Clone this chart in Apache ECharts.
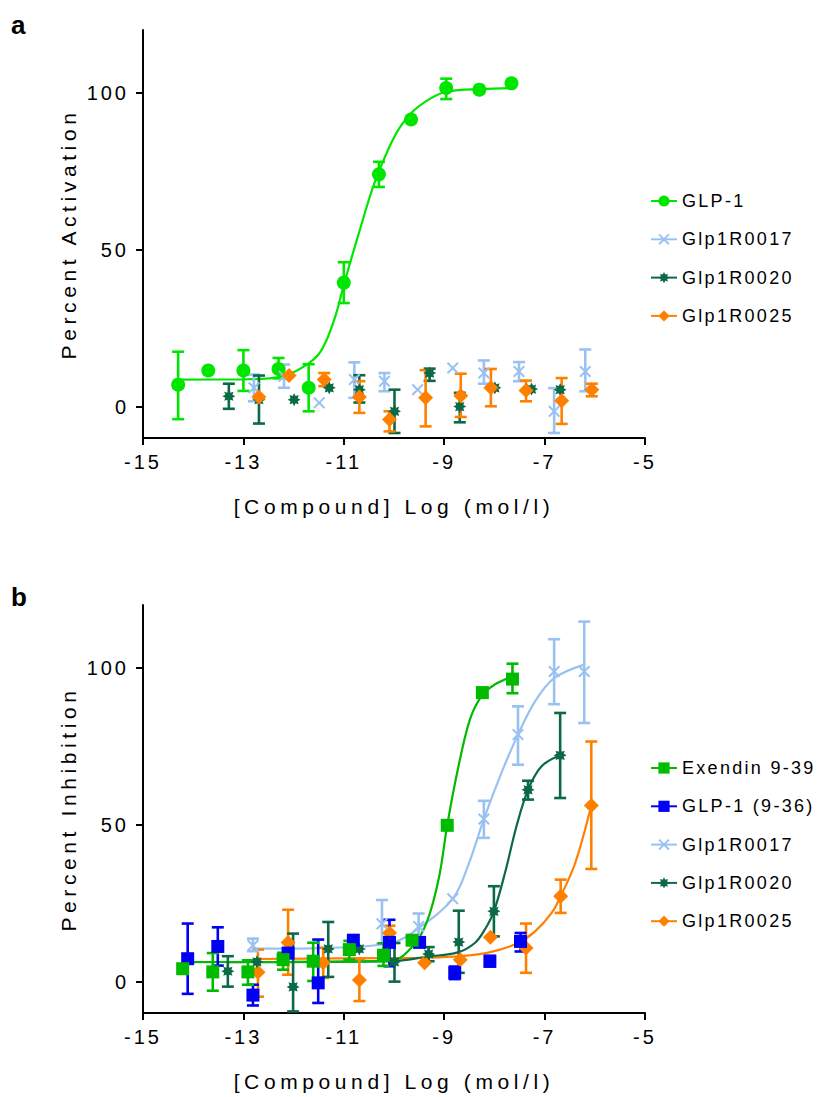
<!DOCTYPE html>
<html>
<head>
<meta charset="utf-8">
<script src="https://cdn.jsdelivr.net/npm/echarts@6/dist/echarts.min.js"></script>
<style>
  html, body { margin: 0; padding: 0; background: #fff; }
  #chart { width: 823px; height: 1097px; }
  #chart svg text { letter-spacing: 3px; }
  #chart svg text[style*="21px"] { letter-spacing: 4.6px; }
  #chart svg text[style*="18px"] { letter-spacing: 2.3px; }
</style>
</head>
<body>
<div id="chart"></div>
<script>
// ---- panel a : activation ----
var aGlp1X = [-14.3, -13.7, -13.0, -12.3, -11.7, -11.0, -10.3, -9.66, -8.96, -8.3, -7.66];
var aGlp1Y = [7, 11.5, 11.5, 12, 6, 39.5, 74, 91.5, 101.5, 101, 103];
var aGlp1Err = [[-4, 17.5], null, [5, 18], [9, 15.5], [-1.5, 13.5], [33, 46], [70, 78], null, [98, 104.5], null, null];
var aGlp1CurveX = [-14.3, -13.0, -12.26, -11.79, -11.46, -11.19, -10.99, -10.66, -10.39, -9.99, -9.66, -9.26, -8.93, -8.26, -7.66];
var aGlp1CurveY = [8.6, 8.7, 9.5, 12.8, 17.6, 27.7, 39.4, 57.4, 71.2, 86.1, 93.5, 98.3, 100.4, 101.2, 101.5];

var a0017X = [-12.79, -12.19, -11.49, -10.79, -10.19, -9.53, -8.83, -8.21, -7.51, -6.81, -6.19];
var a0017Y = [6, 9.7, 1.2, 8.6, 8.1, 5.4, 12.3, 10.7, 11.2, -1.5, 11.2];
var a0017Err = [[1.7, 10.2], [6, 13.4], null, [2.8, 14.1], [4.9, 10.7], null, null, [7.3, 14.7], [8.1, 14.2], [-8.4, 5.9], [4.9, 18.2]];

var a0020X = [-13.29, -12.69, -11.99, -11.29, -10.69, -9.99, -9.29, -8.69, -7.99, -7.26, -6.69];
var a0020Y = [3.3, 2.2, 2.2, 6, 5.4, -1.5, 10.7, 0, 6, 5.6, 5.4];
var a0020Err = [[-0.7, 7.3], [-5.4, 9.9], null, null, [1.3, 10], [-8.4, 5.4], [8.2, 12.1], [-5, 4.4], null, null, null];

var a0025X = [-12.69, -12.09, -11.39, -10.69, -10.09, -9.37, -8.67, -8.07, -7.37, -6.66, -6.06];
var a0025Y = [3.1, 9.9, 8.6, 3.1, -4.1, 2.8, 3.5, 6, 5.1, 1.9, 5.4];
var a0025Err = [null, null, [6.5, 10.7], [-2, 8.1], [-7.9, -1.5], [-6.3, 11.6], [-3.3, 10.5], [0.1, 12], [1.7, 8.3], [-5.5, 9.1], [3.3, 7.3]];

// ---- panel b : inhibition ----
var bExX = [-14.21, -13.61, -12.91, -12.21, -11.61, -10.89, -10.21, -9.64, -8.94, -8.24, -7.64];
var bExY = [4.1, 3.1, 3.1, 7, 6.5, 10.2, 8.4, 13.2, 49.8, 92.1, 96.4];
var bExErr = [null, [-2.9, 9.1], [-1, 6.8], [3.8, 9.2], [0.2, 12.4], [7, 13], [5, 12.2], null, null, null, [91.9, 101.3]];
var bExCurveX = [-14.21, -12.0, -10.06, -9.6, -9.33, -9.1, -8.94, -8.73, -8.49, -8.26, -8.0, -7.64];
var bExCurveY = [6.2, 6.3, 6.6, 11.8, 19.7, 33.5, 49.8, 67.5, 83.4, 90.9, 94.6, 97.2];

var bGlpX = [-14.11, -13.51, -12.81, -12.11, -11.51, -10.81, -10.09, -9.49, -8.79, -8.09, -7.48];
var bGlpY = [7.3, 11.2, -4.3, 9.1, -0.4, 13.2, 12.5, 12.5, 2.8, 6.5, 12.8];
var bGlpErr = [[-3.9, 18.5], [5.1, 17.3], [-7.6, -1], null, [-6.8, 13.4], null, [4.9, 19.7], null, [0.8, 4.8], [4.8, 8.2], [9.6, 15.5]];

var b0017X = [-12.81, -10.24, -9.51, -8.83, -8.21, -7.53, -6.81, -6.21];
var b0017Y = [11.5, 18.4, 17.6, 26.4, 51.8, 78.7, 98.8, 98.8];
var b0017Err = [[9.7, 13.7], [12, 26], [13.4, 21.7], null, [45.8, 57.6], [69.1, 87.7], [88.4, 109.1], [82.4, 114.7]];
var b0017CurveX = [-12.8, -11.5, -10.06, -9.51, -8.83, -8.53, -8.21, -7.86, -7.53, -7.19, -6.81, -6.21];
var b0017CurveY = [10.5, 10.7, 12.3, 17.0, 26.4, 36.7, 51.8, 66.5, 78.7, 89.3, 96.7, 101];

var b0020X = [-13.31, -12.73, -12.01, -11.31, -10.69, -9.99, -9.31, -8.71, -8.01, -7.33, -6.69];
var b0020Y = [3.3, 6.3, -1.7, 10.4, 10.4, 6.3, 8.8, 12.6, 22.4, 61.1, 72.1];
var b0020Err = [[-1.6, 8.1], null, [-9.5, 15.3], [1.5, 19], null, [0, 12.3], [6.5, 11], [2.8, 22.6], [14.4, 30.4], [58, 64], [58.5, 85.6]];
var b0020CurveX = [-13.31, -10.06, -9.31, -8.73, -8.39, -8.19, -8.01, -7.79, -7.56, -7.33, -7.06, -6.69];
var b0020CurveY = [6.2, 6.5, 8.0, 9.3, 12.3, 16.6, 22.4, 34.6, 49.5, 61.1, 68.6, 72.1];

var b0025X = [-12.71, -12.11, -11.41, -10.69, -10.09, -9.39, -8.68, -8.08, -7.37, -6.68, -6.07];
var b0025Y = [3.0, 12.5, 6, 0.5, 15.5, 6, 7, 14.1, 10.7, 27.2, 56.1];
var b0025Err = [[-4.8, 10.2], [2.2, 22.9], [1.2, 10.8], [-6.2, 7.3], [14, 17.8], null, null, null, [2.8, 18.5], [21.9, 32.5], [35.9, 76.5]];
var b0025CurveX = [-12.71, -10.06, -9.39, -8.68, -8.08, -7.53, -7.19, -6.86, -6.68, -6.39, -6.07];
var b0025CurveY = [7.2, 7.5, 7.6, 8.1, 9.4, 12.3, 16, 21.9, 27.2, 37.8, 56.1];

var xTicks = [-15, -13, -11, -9, -7, -5];
var yTicks = [0, 50, 100];
var legendA = ['GLP-1', 'Glp1R0017', 'Glp1R0020', 'Glp1R0025'];
var legendB = ['Exendin 9-39', 'GLP-1 (9-36)', 'Glp1R0017', 'Glp1R0020', 'Glp1R0025'];

var FONT = 'Liberation Sans';
var symX = 'path://M0,1.2L1.2,0L5,3.8L8.8,0L10,1.2L6.2,5L10,8.8L8.8,10L5,6.2L1.2,10L0,8.8L3.8,5Z';
var symStar = 'path://M10,5L7.77,6.15L8.54,8.54L6.15,7.77L5,10L3.85,7.77L1.46,8.54L2.23,6.15L0,5L2.23,3.85L1.46,1.46L3.85,2.23L5,0L6.15,2.23L8.54,1.46L7.77,3.85Z';

var styles = {
  'GLP-1':        { color: '#00e600', symbol: 'circle', size: 14 },
  'Exendin 9-39': { color: '#00bb00', symbol: 'rect', size: 13 },
  'GLP-1 (9-36)': { color: '#0000f5', symbol: 'rect', size: 13 },
  'Glp1R0017':    { color: '#99c1f1', symbol: symX, size: 12 },
  'Glp1R0020':    { color: '#0b6a45', symbol: symStar, size: 13 },
  'Glp1R0025':    { color: '#ff8000', symbol: 'diamond', size: 15 }
};

function zip(xs, ys) {
  return xs.map(function (x, i) { return [x, ys[i]]; });
}
function errData(xs, errs) {
  var out = [];
  xs.forEach(function (x, i) { if (errs[i]) out.push([x, errs[i][0], errs[i][1]]); });
  return out;
}

function errItem(params, api) {
  var x = api.value(0);
  var top = api.coord([x, api.value(2)]);
  var bot = api.coord([x, api.value(1)]);
  var w = 6;
  var st = { stroke: api.visual('color'), lineWidth: 2.6 };
  return {
    type: 'group',
    children: [
      { type: 'line', shape: { x1: top[0], y1: top[1], x2: bot[0], y2: bot[1] }, style: st },
      { type: 'line', shape: { x1: top[0] - w, y1: top[1], x2: top[0] + w, y2: top[1] }, style: st },
      { type: 'line', shape: { x1: bot[0] - w, y1: bot[1], x2: bot[0] + w, y2: bot[1] }, style: st }
    ]
  };
}

var lineSeries = [], dotSeries = [], errSeries = [];
function addSet(panel, name, xs, ys, errs, cx, cy) {
  var s = styles[name];
  lineSeries.push({
    type: 'line', name: name, xAxisIndex: panel, yAxisIndex: panel,
    data: cx ? zip(cx, cy) : [],
    smooth: 0.35, showSymbol: false,
    symbol: s.symbol, symbolSize: s.size,
    lineStyle: { color: s.color, width: 2.2 },
    itemStyle: { color: s.color },
    z: 2, silent: true
  });
  errSeries.push({
    type: 'custom', name: name, xAxisIndex: panel, yAxisIndex: panel,
    data: errData(xs, errs), renderItem: errItem,
    encode: { x: 0, y: [1, 2] },
    itemStyle: { color: s.color }, z: 3, silent: true
  });
  dotSeries.push({
    type: 'scatter', name: name, xAxisIndex: panel, yAxisIndex: panel,
    data: zip(xs, ys), symbol: s.symbol, symbolSize: s.size,
    itemStyle: { color: s.color, opacity: 1 }, z: 4, silent: true
  });
}

addSet(0, 'GLP-1', aGlp1X, aGlp1Y, aGlp1Err, aGlp1CurveX, aGlp1CurveY);
addSet(0, 'Glp1R0017', a0017X, a0017Y, a0017Err);
addSet(0, 'Glp1R0020', a0020X, a0020Y, a0020Err);
addSet(0, 'Glp1R0025', a0025X, a0025Y, a0025Err);
addSet(1, 'Glp1R0025', b0025X, b0025Y, b0025Err, b0025CurveX, b0025CurveY);
addSet(1, 'Glp1R0020', b0020X, b0020Y, b0020Err, b0020CurveX, b0020CurveY);
addSet(1, 'Glp1R0017', b0017X, b0017Y, b0017Err, b0017CurveX, b0017CurveY);
addSet(1, 'GLP-1 (9-36)', bGlpX, bGlpY, bGlpErr);
addSet(1, 'Exendin 9-39', bExX, bExY, bExErr, bExCurveX, bExCurveY);

function xAxis(idx) {
  return {
    type: 'value', gridIndex: idx, min: -15, max: -5,
    name: '[Compound] Log (mol/l)', nameLocation: 'middle', nameGap: 58,
    nameTextStyle: { fontFamily: FONT, fontSize: 21, color: '#000' },
    axisLine: { onZero: false, lineStyle: { color: '#000', width: 2 } },
    axisTick: { customValues: xTicks, length: 7, lineStyle: { color: '#000', width: 2 } },
    axisLabel: { customValues: xTicks, margin: 14, fontFamily: FONT, fontSize: 20, color: '#000' },
    splitLine: { show: false }
  };
}
function yAxis(idx, title) {
  return {
    type: 'value', gridIndex: idx, min: -10, max: 120,
    name: title, nameLocation: 'middle', nameGap: 64,
    nameTextStyle: { fontFamily: FONT, fontSize: 21, color: '#000' },
    axisLine: { show: true, onZero: false, lineStyle: { color: '#000', width: 2 } },
    axisTick: { show: true, customValues: yTicks, length: 7, lineStyle: { color: '#000', width: 2 } },
    axisLabel: { customValues: yTicks, margin: 14, fontFamily: FONT, fontSize: 20, color: '#000' },
    splitLine: { show: false }
  };
}
function legend(names, top) {
  return {
    data: names, orient: 'vertical', left: 650, top: top, padding: 0,
    itemWidth: 26, itemHeight: 14, itemGap: 18.3, selectedMode: false,
    textStyle: { fontFamily: FONT, fontSize: 18, color: '#000', lineHeight: 20 }
  };
}

var chart = echarts.init(document.getElementById('chart'), null, { renderer: 'svg' });
chart.setOption({
  animation: false,
  backgroundColor: '#fff',
  grid: [
    { left: 143, top: 30, width: 502, height: 408 },
    { left: 143, top: 605, width: 502, height: 408 }
  ],
  xAxis: [xAxis(0), xAxis(1)],
  yAxis: [yAxis(0, 'Percent Activation'), yAxis(1, 'Percent Inhibition')],
  legend: [legend(legendA, 191), legend(legendB, 758)],
  graphic: [
    { type: 'text', left: 11, top: 12, style: { text: 'a', font: 'bold 26px "Liberation Sans"', fill: '#000' } },
    { type: 'text', left: 11, top: 584, style: { text: 'b', font: 'bold 26px "Liberation Sans"', fill: '#000' } }
  ],
  series: lineSeries.concat(errSeries, dotSeries)
});
</script>
</body>
</html>
